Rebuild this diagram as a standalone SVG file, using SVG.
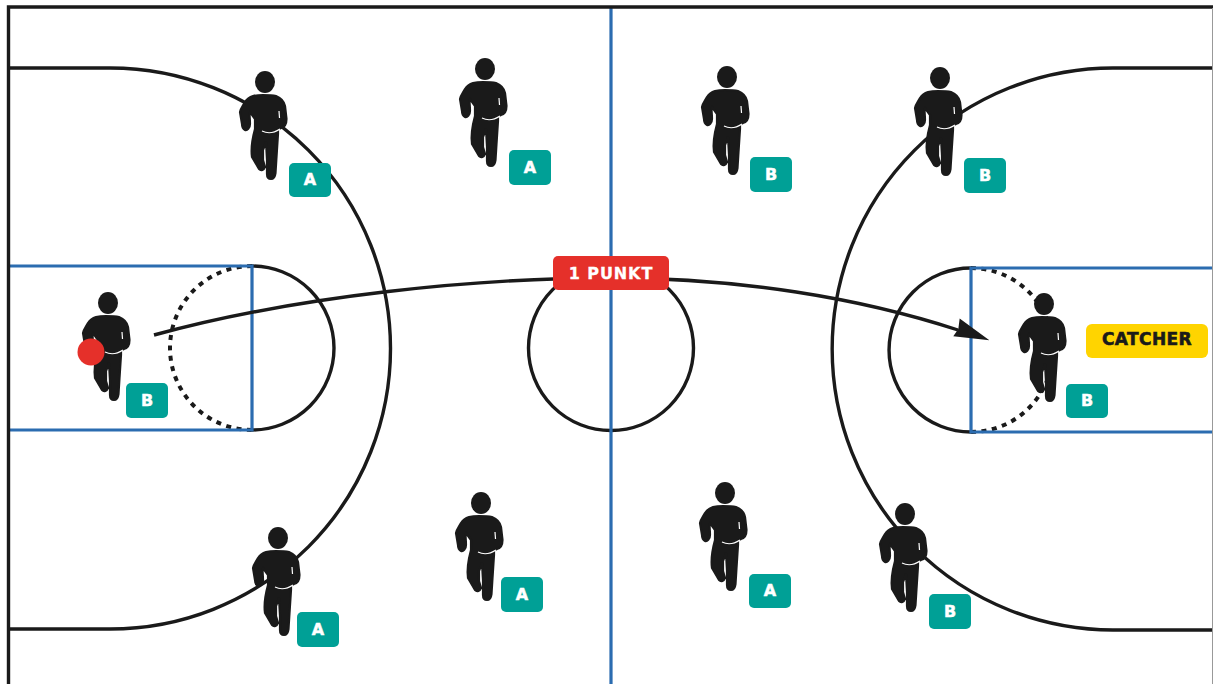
<svg xmlns="http://www.w3.org/2000/svg" width="1213" height="684" viewBox="0 0 1213 684">
<style>
.line{fill:none;stroke:#1a1a1a;stroke-width:3.4}
.dot{fill:none;stroke:#1a1a1a;stroke-width:4;stroke-dasharray:5 5.5}
.blue{fill:none;stroke:#2b6cb0;stroke-width:3.2}
.tag{fill:#00a096}
.tagt{font-family:"DejaVu Sans",Verdana,sans-serif;font-weight:700;font-size:16px;fill:#fff;stroke:#fff;stroke-width:.5;text-anchor:middle}
.red{fill:#e5302a}
.redt{font-family:"DejaVu Sans",Verdana,sans-serif;font-weight:700;font-size:16px;letter-spacing:.9px;fill:#fff;stroke:#fff;stroke-width:.3;text-anchor:middle}
.cat{fill:#ffd400}
.catt{font-family:"DejaVu Sans",Verdana,sans-serif;font-weight:700;font-size:17px;letter-spacing:.4px;fill:#1a1a1a;stroke:#1a1a1a;stroke-width:.6;text-anchor:middle}
.p{fill:#1a1a1a}
</style>
<defs>
<marker id="ah" markerUnits="userSpaceOnUse" markerWidth="44" markerHeight="30" viewBox="-4 -15 44 30" refX="3" refY="0" orient="auto">
<path d="M1,-11.5 L36,0 L0.5,7.5 L3,-1 Z" fill="#1a1a1a"/>
</marker>
<g id="person">
<ellipse cx="0" cy="0" rx="10" ry="11"/>
<path stroke="#1a1a1a" stroke-width="2.2" stroke-linejoin="round" d="M-12,14 C-8,13 -5,13 -2,13 C3,13 7,13 11,14 C16,16 19,19 20,24 L21.5,37 C21.5,41 20,45 16,46 L13,47.5 L13,52 L11.5,75 L10.5,91 C10,95 8,97 6,97 C3,97 2,95 2,92 L2,78 L1,60 L-2,68 L-2,78 L0,85 C-1,88 -4,89 -6,87 L-13,75 C-14,68 -13,58 -10,47 L-10,37 L-15,30 C-16,32 -15,36 -15,42 C-15,46 -18,49 -20,48 C-22,47 -23,45 -23,42 L-25,30 C-24,26 -22,24 -20,20 C-18,17 -15,15 -12,14 Z"/>
<path d="M-3,49 C3,52 9,51 15,47 M14,29 L14.5,36" fill="none" stroke="#fff" stroke-width="1.2"/>
</g>
</defs>
<rect width="1213" height="684" fill="#fff"/>
<g id="court">
<path d="M8,68 H110 A280,280 0 0 1 110,629 H8" class="line"/>
<path d="M1213,68 H1113 A280,280 0 0 0 1113,630 H1213" class="line"/>
<circle cx="611" cy="348" r="82.5" class="line"/>
<path d="M252,266 A82,82 0 0 1 252,430" class="line"/>
<path d="M252,266 A82,82 0 0 0 252,430" class="dot"/>
<path d="M971,268 A82,82 0 0 0 971,432" class="line"/>
<path d="M971,268 A82,82 0 0 1 971,432" class="dot"/>
<path d="M8,266 H252 V430 H8" class="blue"/>
<path d="M1213,268 H971 V432 H1213" class="blue"/>
<path d="M611,8 V684" class="blue"/>
<path d="M8.5,684 V7 H1213" fill="none" stroke="#1a1a1a" stroke-width="3.4"/>
<path d="M1212.5,8 V684" fill="none" stroke="#999" stroke-width="1"/>
</g>
<g id="connectors">
<path d="M154,335 C300,295 480,278 611,278 C740,278 860,298 958,330" class="line" marker-end="url(#ah)"/>
</g>
<g id="player-a1" class="p"><use href="#person" x="265" y="82"/><rect x="289" y="163" width="42" height="34" rx="5" class="tag"/><text x="310" y="185" class="tagt">A</text></g>
<g id="player-a2" class="p"><use href="#person" x="485" y="69"/><rect x="509" y="150" width="42" height="35" rx="5" class="tag"/><text x="530" y="173" class="tagt">A</text></g>
<g id="player-b1" class="p"><use href="#person" x="727" y="77"/><rect x="750" y="157" width="42" height="35" rx="5" class="tag"/><text x="771" y="180" class="tagt">B</text></g>
<g id="player-b2" class="p"><use href="#person" x="940" y="78"/><rect x="964" y="158" width="42" height="35" rx="5" class="tag"/><text x="985" y="181" class="tagt">B</text></g>
<g id="player-ball" class="p"><use href="#person" x="108" y="303"/><circle cx="91" cy="352" r="13.5" fill="#e5302a"/><rect x="126" y="383" width="42" height="35" rx="5" class="tag"/><text x="147" y="406" class="tagt">B</text></g>
<g id="player-catcher" class="p"><use href="#person" x="1044" y="304"/><rect x="1066" y="384" width="42" height="34" rx="5" class="tag"/><text x="1087" y="406" class="tagt">B</text></g>
<g id="player-a3" class="p"><use href="#person" x="278" y="538"/><rect x="297" y="612" width="42" height="35" rx="5" class="tag"/><text x="318" y="635" class="tagt">A</text></g>
<g id="player-a4" class="p"><use href="#person" x="481" y="503"/><rect x="501" y="577" width="42" height="35" rx="5" class="tag"/><text x="522" y="600" class="tagt">A</text></g>
<g id="player-a5" class="p"><use href="#person" x="725" y="493"/><rect x="749" y="574" width="42" height="34" rx="5" class="tag"/><text x="770" y="596" class="tagt">A</text></g>
<g id="player-b3" class="p"><use href="#person" x="905" y="514"/><rect x="929" y="594" width="42" height="35" rx="5" class="tag"/><text x="950" y="617" class="tagt">B</text></g>
<g id="label-punkt"><rect x="553" y="256" width="116" height="34" rx="5" class="red"/><text x="611" y="278.500" class="redt">1 PUNKT</text></g>
<g id="label-catcher"><rect x="1086" y="324" width="122" height="34" rx="6" class="cat"/><text x="1147" y="345" class="catt">CATCHER</text></g>
</svg>
